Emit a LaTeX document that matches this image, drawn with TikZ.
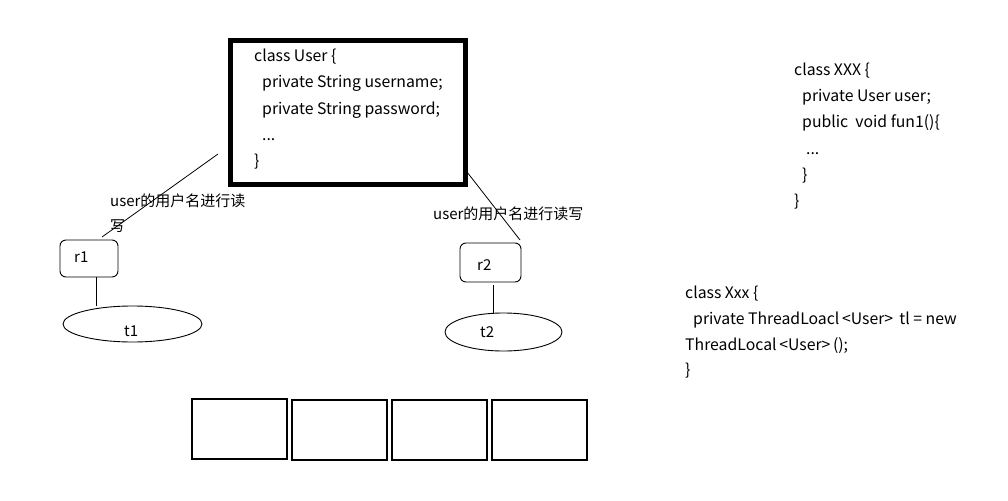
\documentclass[tikz,border=0pt]{standalone}
\usepackage{fontspec}
\setmainfont{Noto Sans CJK SC}
\begin{document}
\begin{tikzpicture}[x=1pt,y=-1pt,
  txt/.style={anchor=base west,inner sep=0pt,font=\fontsize{15}{18}\selectfont},
  code/.style={anchor=base west,inner sep=0pt,font=\fontsize{15.8}{18}\selectfont},
  thin line/.style={line width=0.8pt},
  rbox/.style={draw,line width=0.9pt,rounded corners=6pt},
  oval/.style={draw,line width=0.9pt},
  cell/.style={draw,line width=1.6pt}]
\useasboundingbox (0,0) rectangle (1008,500);
% big class box
\draw[line width=5pt] (230,41) rectangle (465,184);
\node[code] (u1) at (254,62) {class User \{};
\node[code] (u2) at (262,88) {private String username;};
\node[code] (u3) at (262,114) {private String password;};
\node[code] (u4) at (262,140) {...};
\node[code] (u5) at (254,166) {\}};
% r1 / t1
\draw[rbox] (60,240) rectangle (118,277);
\node[txt] (r1) at (74,262) {r1};
\draw[oval] (132.5,324) ellipse [x radius=69.5, y radius=18];
\node[txt] (t1) at (124,336) {t1};
\coordinate (a1) at (218,154);
\coordinate (a2) at (102,237);
\draw[thin line] (a1) -- (a2);
\coordinate (b1) at (96,277);
\coordinate (b2) at (96,306);
\draw[thin line] (b1) -- (b2);
\node[txt] (l1) at (110,206) {user的用户名进行读};
\node[txt] (l2) at (110,231) {写};
% r2 / t2
\draw[rbox] (460,243) rectangle (521,282);
\node[txt] (r2) at (477,270) {r2};
\draw[oval] (503.5,332) ellipse [x radius=58.5, y radius=19];
\node[txt] (t2) at (480,337) {t2};
\coordinate (c1) at (467,172);
\coordinate (c2) at (520,240);
\draw[thin line] (c1) -- (c2);
\coordinate (d1) at (493,285);
\coordinate (d2) at (493,314);
\draw[thin line] (d1) -- (d2);
\node[txt] (l3) at (433,219) {user的用户名进行读写};
% class XXX
\node[code] (x1) at (794,76) {class XXX \{};
\node[code] (x2) at (802,102) {private User user;};
\node[code] (x3) at (802,128) {public\ \ void fun1()\{};
\node[code] (x4) at (806,154) {...};
\node[code] (x5) at (802,180) {\}};
\node[code] (x6) at (794,206) {\}};
% class Xxx
\node[code] (y1) at (685,298) {class Xxx \{};
\node[code] (y2) at (693,324) {private ThreadLoacl\,<User>\, tl = new};
\node[code] (y3) at (685,350) {ThreadLocal\,<User>\,();};
\node[code] (y4) at (685,375) {\}};
% bottom cells
\draw[cell] (192,399) rectangle (287,459);
\draw[cell] (292,400) rectangle (387,460);
\draw[cell] (392,400) rectangle (487,460);
\draw[cell] (492,400) rectangle (587,460);
\end{tikzpicture}
\end{document}
